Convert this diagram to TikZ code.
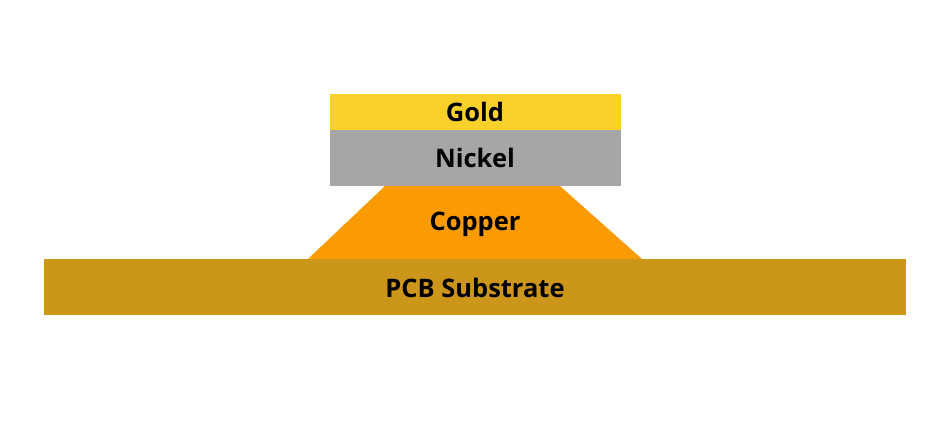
\documentclass[tikz,border=0pt]{standalone}
\usepackage{fontspec}
\setmainfont{Open Sans}
\definecolor{goldc}{HTML}{F9D12A}
\definecolor{nickelc}{HTML}{A6A6A6}
\definecolor{copperc}{HTML}{FB9B04}
\definecolor{pcbc}{HTML}{CC961A}
\tikzset{layerlabel/.style={font=\fontsize{14.5}{17}\selectfont\bfseries, text=black}}
\begin{document}
\begin{tikzpicture}[x=0.02cm, y=-0.02cm]
  \useasboundingbox (0,0) rectangle (950,432);
  \fill[pcbc] (44,259) rectangle (906,315);
  \fill[copperc] (308,259) -- (385,186) -- (560,186) -- (642,259) -- cycle;
  \fill[nickelc] (330,130) rectangle (621,186);
  \fill[goldc] (330,94) rectangle (621,130);
  \node[layerlabel] (gold) at (475,112) {Gold};
  \node[layerlabel] (nickel) at (475,158) {Nickel};
  \node[layerlabel] (copper) at (475,224) {Copper};
  \node[layerlabel] (pcb) at (475,288) {PCB Substrate};
\end{tikzpicture}
\end{document}
